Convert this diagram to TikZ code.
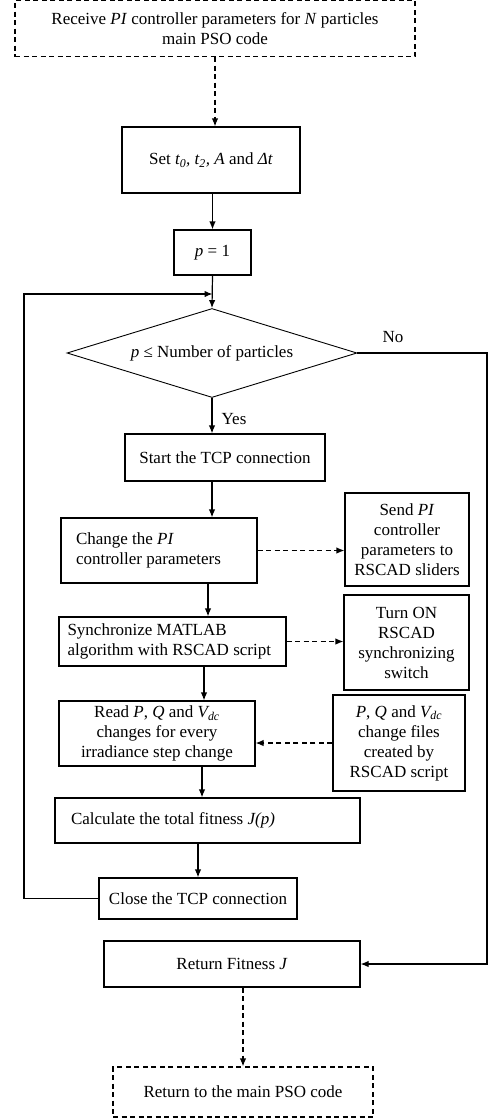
\documentclass[tikz,border=0pt]{standalone}
\usepackage{fontspec}
\setmainfont{Liberation Serif}
\usetikzlibrary{arrows.meta,shapes.geometric}

\begin{document}
\begin{tikzpicture}
	[x=1pt,y=-1pt,
	every node/.style={font=\fontsize{17}{20}\selectfont},
	box/.style={draw,line width=1.2pt,inner sep=0pt,align=center},
	lbox/.style={box,align=flush left},
	dbox/.style={box,dash pattern=on 5pt off 3.5pt},
	flow/.style={line width=1.2pt,-{Latex[length=8pt,width=6.5pt]}},
	dflow/.style={flow,dash pattern=on 5pt off 3.5pt}]
	\useasboundingbox (0,0) rectangle (489,1120);
	% main column
	\node[dbox,minimum width=400pt,minimum height=56pt] (recv) at (215,28.5)
		{Receive \textit{PI} controller parameters for \textit{N} particles\\main PSO code};
	\node[box,minimum width=178pt,minimum height=66pt] (setp) at (211,160)
		{Set \textit{t\textsubscript{0}, t\textsubscript{2}, A} and \textit{Δt}};
	\node[box,minimum width=77pt,minimum height=45pt] (pone) at (212.5,252.5) {\textit{p} = 1};
	\node[draw,diamond,aspect=3.26,line width=0.9pt,inner sep=0pt,
		minimum width=290pt,minimum height=89pt] (cond) at (212,353)
		{\textit{p} ≤ Number of particles};
	\node[box,minimum width=200pt,minimum height=47pt] (start) at (225,457.5) {Start the TCP connection};
	\node[lbox,minimum width=196pt,minimum height=65pt,text width=166pt] (chg) at (159,550.5)
		{Change the \textit{PI}\\controller parameters};
	\node[lbox,minimum width=227pt,minimum height=49pt,text width=210pt] (sync) at (172.5,641.5)
		{Synchronize MATLAB\\algorithm with RSCAD script};
	\node[box,minimum width=196pt,minimum height=65pt] (read) at (157,733.5)
		{Read \textit{P}, \textit{Q} and \textit{V\textsubscript{dc}}\\changes for every\\irradiance step change};
	\node[lbox,minimum width=305pt,minimum height=45pt,text width=273pt] (calc) at (207.5,820.5)
		{Calculate the total fitness \textit{J(p)}};
	\node[box,minimum width=198pt,minimum height=41pt] (close) at (198,898.5) {Close the TCP connection};
	\node[box,minimum width=256pt,minimum height=46pt] (ret) at (232,964) {Return Fitness \textit{J}};
	\node[dbox,minimum width=260pt,minimum height=50pt] (back) at (243,1092) {Return to the main PSO code};
	% side boxes
	\node[box,minimum width=124pt,minimum height=93pt] (send) at (407,539.5)
		{Send \textit{PI}\\controller\\parameters to\\RSCAD sliders};
	\node[box,minimum width=125pt,minimum height=95pt] (turn) at (406.5,642.5)
		{Turn ON\\RSCAD\\synchronizing\\switch};
	\node[box,minimum width=132pt,minimum height=96pt] (files) at (399,743)
		{\textit{P}, \textit{Q} and \textit{V\textsubscript{dc}}\\change files\\created by\\RSCAD script};
	\node (no) at (393,337) {No};
	\node (yes) at (234,419) {Yes};
	\coordinate (join) at (212.5,294);
	\coordinate (lp) at (24,294);
	\coordinate (rt) at (487,353);
	% connectors
	\draw[dflow] (recv.south) -- (recv.south |- setp.north);
	\draw[flow] (pone.north |- setp.south) -- (pone.north);
	\draw[flow] (pone.south) -- (cond.north);
	\draw[flow] (cond.south) -- (cond.south |- start.north);
	\draw[flow] (cond.south |- start.south) -- (cond.south |- chg.north);
	\draw[flow] ([xshift=49pt]chg.south) -- ([xshift=49pt]chg.south |- sync.north);
	\draw[flow] ([xshift=31.5pt]sync.south) -- ([xshift=31.5pt]sync.south |- read.north);
	\draw[flow] ([xshift=45pt]read.south) -- ([xshift=45pt]read.south |- calc.north);
	\draw[flow] (close.north |- calc.south) -- (close.north);
	\draw[flow] (close.west) -| (lp) -- (join);
	\draw[flow] (cond.east) -- (rt) |- (ret.east);
	\draw[dflow] (back.north |- ret.south) -- (back.north);
	\draw[dflow] (chg.east) -- (chg.east -| send.west);
	\draw[dflow] (sync.east) -- (sync.east -| turn.west);
	\draw[dflow] (files.west) -- (files.west -| read.east);
\end{tikzpicture}
\end{document}
